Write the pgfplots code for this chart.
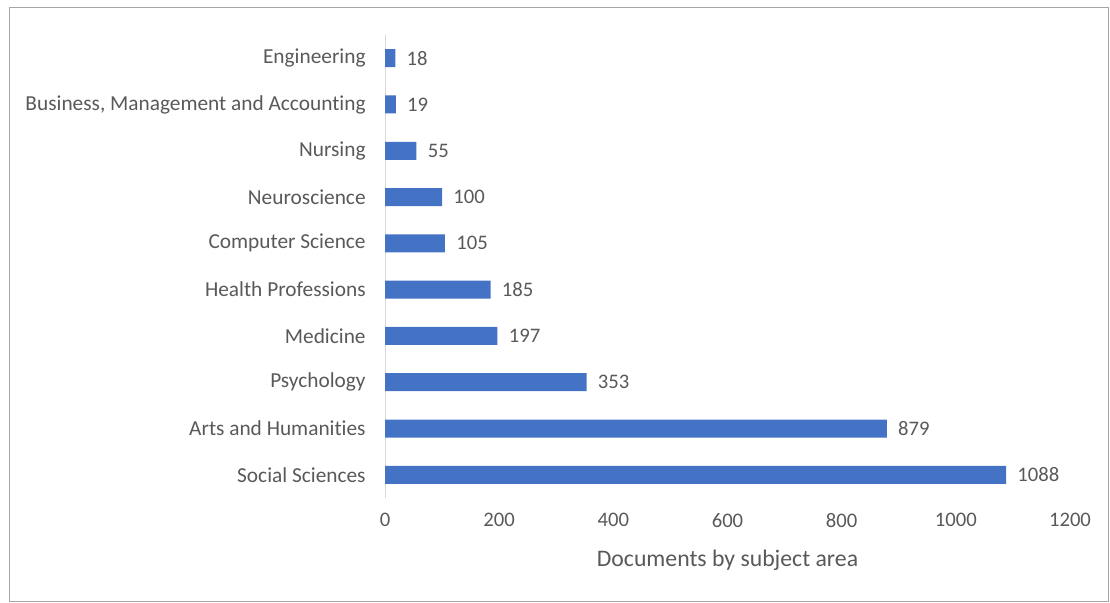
\documentclass[border=0pt]{standalone}
\usepackage{pgfplots}
\pgfplotsset{compat=1.18}
\usepackage{fontspec}
\setmainfont{Carlito}[Ligatures={NoCommon}]
\definecolor{barblue}{HTML}{4472C4}
\definecolor{txtgray}{HTML}{595959}
\definecolor{axgray}{HTML}{D9D9D9}
\definecolor{framegray}{HTML}{A6A6A6}
\begin{document}
\begin{tikzpicture}
\useasboundingbox (0,0) rectangle (832.5pt,452.25pt);
\draw[framegray, line width=0.75pt] (6.75pt,0.75pt) rectangle (831pt,446.25pt);
\begin{axis}[
  at={(288.75pt,78.75pt)}, anchor=south west,
  scale only axis, width=513.75pt, height=347.25pt,
  xbar, bar width=13.5pt,
  xmin=0, xmax=1200, ymin=-0.5, ymax=9.5,
  xtick={0,200,...,1200}, ytick={0,...,9},
  yticklabels={Social Sciences, Arts and Humanities, Psychology, Medicine, Health Professions, Computer Science, Neuroscience, Nursing, {Business, Management and Accounting}, Engineering},
  axis x line*=bottom, axis y line*=left,
  x axis line style={draw=none},
  y axis line style={draw=axgray, line width=0.75pt},
  major tick length=0pt,
  /pgf/number format/assume math mode=true,
  /pgf/number format/1000 sep={},
  scaled x ticks=false,
  xticklabel style={font=\fontsize{15.5}{18}\selectfont, text=txtgray, yshift=-8pt},
  yticklabel style={font=\fontsize{16}{18}\selectfont, text=txtgray, xshift=-11pt},
  nodes near coords,
  nodes near coords style={font=\fontsize{15.5}{18}\selectfont, text=txtgray, anchor=west, xshift=5pt},
  xlabel={Documents by subject area},
  x label style={at={(axis description cs:0.5,-0.134)}, anchor=center, font=\fontsize{17.8}{20}\selectfont, text=txtgray},
  clip=false,
]
\addplot[fill=barblue, draw=none] coordinates {
  (1088,0) (879,1) (353,2) (197,3) (185,4) (105,5) (100,6) (55,7) (19,8) (18,9)
};
\end{axis}
\end{tikzpicture}
\end{document}
